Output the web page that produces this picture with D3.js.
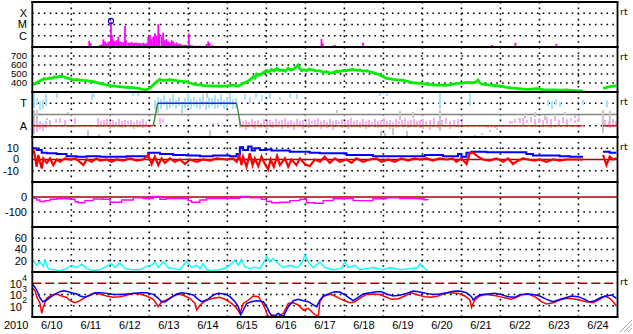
<!DOCTYPE html>
<html><head><meta charset="utf-8">
<script src="https://cdn.jsdelivr.net/npm/d3@7"></script>
<style>
html,body{margin:0;padding:0;background:#fff;}
svg{display:block;font-family:"Liberation Sans",Arial,sans-serif;}
</style></head><body>
<svg id="chart" width="633" height="334"></svg>
<script>
// ---- data (time = hours since 2010-06-10 00:00 UT) ----
const DAY_LABELS = ['6/10','6/11','6/12','6/13','6/14','6/15','6/16','6/17','6/18','6/19','6/20','6/21','6/22','6/23','6/24'];
const YEAR = '2010';
const XRAY_CLASSES = [['X',-4],['M',-5],['C',-6]];

// GOES x-ray flux, log10 W/m2
const xray = [[14.0,-6.91],[15.0,-6.92],[17.0,-6.91],[19.7,-6.91],[35.0,-6.44],[35.9,-6.67],
[41.6,-6.82],[42.7,-6.75],[43.7,-6.32],[44.7,-6.5],[45.7,-6.67],[46.7,-6.53],[47.8,-6.6],[48.4,-4.75],[49.0,-5.96],[49.8,-6.4],[50.8,-6.45],[51.9,-6.4],[52.9,-6.08],[53.9,-6.5],[55.0,-6.55],[55.9,-6.6],[57.0,-5.13],[57.6,-6.4],[59.0,-6.62],[60.0,-6.6],[61.1,-6.55],[62.1,-6.65],[63.1,-6.62],[64.2,-6.6],[65.2,-6.66],[66.2,-6.65],[67.2,-6.7],[68.2,-6.62],[69.3,-6.68],[70.3,-6.67],[71.3,-6.08],[72.4,-5.93],[73.4,-6.3],[74.4,-6.08],[75.4,-5.79],[76.5,-6.0],[77.5,-4.96],[78.1,-5.79],[79.6,-6.08],[80.5,-5.73],[81.6,-6.4],[82.6,-6.3],[83.6,-6.5],[84.7,-6.6],[85.7,-6.4],[86.7,-6.5],[87.7,-6.67],[88.8,-6.6],[89.8,-6.7],[90.8,-6.72],[91.8,-6.78],[92.8,-6.82],[93.9,-6.8],[94.9,-6.82],[96.3,-5.8],[97.0,-6.82],[98.0,-6.86],[99.0,-6.88],[101.1,-6.88],[103.1,-6.88],[105.1,-6.9],[107.2,-6.75],[108.2,-6.5],[109.1,-6.67],[110.9,-6.82],
[177.9,-6.29],[178.7,-6.67],[185.1,-6.87],[186.1,-6.82],[203.5,-6.62],[209.6,-6.92],[282.8,-6.82],[297.2,-6.62],[306.6,-6.92],[322.4,-6.71],[323.8,-6.92]];
const flareMarks = [[48.4,-4.69]];

// solar wind speed, km/s
const SPEED_TICKS = [700,600,500,400];
const speed = [[0.6,378],[2.7,403],[4.2,420],[5.8,433],[7.3,448],[8.9,444],[10.4,455],[11.9,452],[13.5,468],[15,463],[17,475],[19.1,470],[20.6,458],[22.1,452],[23.6,445],[25.2,433],[27.3,440],[29.3,433],[31.4,428],[33.4,426],[35.5,420],[37.5,415],[39.6,405],[41.6,396],[43.7,388],[45.7,378],[47.8,372],[49.8,367],[51.9,362],[53.9,359],[56,355],[58,352],[60,350],[62.1,348],[64.1,342],[66.2,337],[67.7,330],[69.3,322],[70.8,328],[72.4,344],[73.9,370],[75.4,396],[77,420],[78.5,441],[80.5,428],[82.6,433],[84.6,438],[86.7,433],[88.7,426],[90.8,422],[92.8,418],[94.9,415],[97,400],[99,389],[101,383],[103.1,378],[106,372],[109.2,367],[111.3,367],[115.4,364],[119.5,367],[121.5,372],[123.6,378],[125,370],[126.7,367],[128.2,380],[129.7,396],[131.8,412],[133.8,433],[136,470],[137,455],[138,500],[139.5,485],[141,500],[142.5,520],[144.1,537],[145.6,520],[147.2,552],[148.8,535],[150.3,563],[152,540],[154.3,544],[155.8,530],[157.4,563],[159,545],[160.5,552],[162,575],[163.5,600],[164.5,560],[165.6,537],[167.2,548],[168.7,537],[170.5,555],[172.8,544],[174.8,532],[176.9,537],[179,520],[181,526],[183,510],[185.1,515],[187.2,530],[189.2,526],[191.3,540],[193.3,537],[195.3,545],[197.3,552],[199.4,540],[201.4,544],[203.5,530],[205.6,537],[207.6,525],[209.6,515],[211.7,505],[213.8,489],[215.8,470],[217.9,452],[219.9,448],[221.9,441],[224,436],[226.1,433],[228.1,428],[230.2,422],[232.2,410],[234.3,403],[236.3,400],[238.4,396],[240.4,392],[242.5,389],[245.5,382],[248.6,378],[251.7,376],[254.8,374],[258,385],[260.9,396],[264,396],[267.1,407],[271.1,403],[272.8,410],[274.2,433],[275.2,405],[276.3,389],[279,383],[281.4,378],[284.5,372],[287.5,367],[289.6,360],[291.7,352],[294.8,346],[297.8,341],[300.8,335],[303.9,330],[307,333],[310.1,337],[313.2,328],[316.2,322],[319.3,324],[322.4,322],[325.5,320],[328.5,322],[331.6,318],[334.7,315],[338.8,311],[345,null],[351.1,341],[355.2,359],[359.3,370]];

// IMF sector: +1 toward, -1 away
const SECTOR_LABELS = [['T',1],['A',-1]];
const sectorLine = [[0,-1],[74.4,-1],[77.1,1],[125.7,1],[128.1,-1],[338.4,-1],[345,null],[351.1,-1],[360,-1]];
const towardPts = [[1.0,0.6,1.9],[2.9,0.9,1.5],[4.7,0.4,1.2],[6.6,0.5,1.3],[8.4,0.7,1.8],[15.0,1.5,1.9],[36.5,1.3,1.9],[37.9,1.5,1.8],[61.9,1.6,1.9],[65.0,1.6,1.9],
[75.4,0.5,1.3],[77.3,0.6,1.6],[79.1,0.5,1.4],[81.0,0.8,1.7],[82.8,0.4,1.2],[84.7,0.6,1.5],[86.5,0.7,1.8],[88.3,0.5,1.3],[90.2,0.8,1.6],[92.0,0.4,1.1],[93.9,0.6,1.5],[95.7,0.7,1.9],[97.6,0.5,1.4],[99.4,0.8,1.6],[101.3,0.6,1.3],[103.1,0.5,1.5],[104.9,0.7,1.8],[106.8,0.4,1.2],[108.6,0.6,1.6],[110.5,0.8,1.5],[112.3,0.5,1.7],[114.2,0.6,1.4],[116.0,0.7,1.8],[117.9,0.5,1.3],[119.7,0.6,1.6],[121.6,0.8,1.9],[123.4,0.5,1.4],[125.2,0.6,1.5],
[130.8,1.3,1.8],[133.8,1.1,1.6],[137.5,1.5,1.9],[141.2,1.2,1.7],[146.1,1.4,1.9],[152.3,1.3,1.6],[158.4,1.5,1.9],[162.7,1.4,1.8],[213.8,1.7,1.95],[218.0,1.6,1.9],
[250.6,0.5,1.9],[269.1,0.8,1.95],[317.1,0.8,1.3],[319.5,0.5,1.2],[322.0,0.9,1.4],[324.4,0.7,1.1],[338.6,0.9,1.3],[353.3,0.7,1.3]];
const awayPts = [[1.0,-1.5,-0.5],[2.9,-1.6,-0.7],[4.7,-1.3,-0.6],[6.6,-1.5,-0.8],[8.4,-1.2,-0.6],[10.9,-1.0,-0.5],[14.6,-0.8,-0.4],[17.0,-0.7,-0.3],[20.1,-0.9,-0.5],[23.2,-0.6,-0.4],[26.3,-0.8,-0.3],
[40.4,-1.1,-0.3],[42.2,-1.0,-0.6],[44.1,-0.9,-0.5],[45.9,-1.0,-0.4],[47.8,-1.3,-0.6],[49.6,-0.9,-0.5],[51.5,-1.1,-0.7],[53.3,-0.9,-0.4],[55.1,-1.2,-0.6],[57.0,-1.0,-0.5],[58.8,-0.9,-0.6],[60.7,-1.1,-0.5],[62.5,-1.3,-0.7],[64.4,-0.9,-0.5],[66.2,-1.0,-0.6],[68.1,-1.2,-0.4],[69.9,-1.0,-0.7],[78.5,-0.8,-0.3],[80.3,-0.7,-0.4],
[111.1,-1.0,-0.8],[114.2,-1.0,-0.8],
[127.7,-1.2,-0.4],[129.5,-1.0,-0.6],[131.4,-1.4,-0.5],[133.2,-1.1,-0.7],[135.1,-0.9,-0.4],[136.9,-1.3,-0.6],[138.8,-1.0,-0.5],[140.6,-1.2,-0.8],[142.5,-1.0,-0.4],[144.3,-1.4,-0.6],[146.1,-0.9,-0.5],[148.0,-1.2,-0.7],[149.8,-1.1,-0.4],[151.7,-1.0,-0.6],[153.5,-1.3,-0.5],[155.4,-0.9,-0.3],[157.2,-1.2,-0.6],[159.0,-1.0,-0.5],[160.9,-1.4,-0.7],[162.7,-0.9,-0.4],[164.6,-1.1,-0.6],[166.4,-1.3,-0.5],[168.3,-1.0,-0.7],[170.1,-1.2,-0.4],[171.9,-0.9,-0.6],[173.8,-1.1,-0.5],[175.6,-1.0,-0.3],[177.5,-1.3,-0.6],[179.3,-0.9,-0.5],[181.2,-1.2,-0.7],[183.0,-1.0,-0.4],[184.9,-1.4,-0.6],[186.7,-1.1,-0.5],[188.6,-0.9,-0.7],[190.4,-1.2,-0.4],[192.2,-1.0,-0.6],[194.1,-1.3,-0.5],[195.9,-0.9,-0.3],[197.8,-1.1,-0.6],[199.6,-1.0,-0.5],[201.5,-1.2,-0.7],[203.3,-0.9,-0.4],[205.2,-1.3,-0.6],[207.0,-1.0,-0.5],[208.9,-1.1,-0.7],[210.7,-1.0,-0.4],[212.5,-1.2,-0.6],[214.4,-0.9,-0.5],[216.2,-1.1,-0.3],[218.0,-1.0,-0.6],[219.9,-1.3,-0.5],[221.7,-1.0,-0.7],[223.6,-1.2,-0.4],[225.4,-0.9,-0.6],[227.3,-1.1,-0.5],[229.1,-1.0,-0.3],[231.0,-1.2,-0.6],[232.8,-0.9,-0.5],[234.7,-1.1,-0.4],[236.5,-1.0,-0.6],[238.4,-1.2,-0.5],
[240.2,-1.3,-0.4],[242.0,-1.0,-0.6],[244.5,-1.4,-0.5],[247.0,-0.9,-0.3],[249.4,-1.2,-0.6],[251.9,-1.0,-0.5],[254.3,-0.8,-0.3],[256.8,-1.3,-0.6],[259.3,-0.9,-0.5],[261.7,-1.1,-0.4],[264.2,-1.0,-0.6],
[280.2,-1.1,-1.0],[284.5,-1.2,-1.0],[287.5,-1.0,-0.9],[293.7,-0.9,-0.6],[296.8,-0.8,-0.4],[299.8,-0.7,-0.3],[301.7,-1.0,-0.3],[304.2,-0.8,-0.5],[306.6,-0.6,-0.2],[309.1,-1.1,-0.4],[311.5,-0.7,-0.3],[314.0,-0.9,-0.5],[316.4,-0.8,-0.2],[318.9,-1.2,-0.4],[321.4,-0.6,-0.3],[323.8,-1.0,-0.5],[326.3,-0.7,-0.2],[328.8,-0.9,-0.4],[331.2,-0.6,-0.3],[333.7,-0.8,-0.5],[336.1,-0.6,-0.2],
[352.1,-1.0,-0.5],[354.6,-1.1,-0.6],[357.0,-0.9,-0.4],[358.9,-1.0,-0.6]];
const mixedPts = [[1.0,-1.7,0.4],[2.9,-1.0,0.4],[9.0,-0.5,-0.3],[22,0.0,0.2],[34,-1.9,-1.4],[41,-1.9,-1.7],[77.5,0.2,0.6],[92,0.2,0.6],[107.4,1.5,1.9],[109.3,-1.9,-1.4],[187.6,0.1,0.4],[214.4,-1.9,-1.5],[217,-1.9,-1.6],[221.7,-1.8,-1.2],[226.1,-0.5,0.3],[230.4,-1.9,-1.5],[234.1,-0.3,0.2],[250.6,-1.5,0.4],[272.2,-1.9,-1.8],[276.5,-1.8,-1.6],[281.4,-1.6,-1.4],[285.7,-1.4,-1.2],[290.6,-1.1,-0.9],[294.9,-0.8,-0.6],[299.2,-0.5,-0.3],[302.9,-0.3,0.1],[309.1,-0.2,0.2],[315.2,-0.4,0.0],[321.4,-0.3,0.1],[327.5,-0.1,0.2],[333.7,-0.3,0.0],[350.9,-1.6,0.4],[355.2,-1.2,0.3]];

// IMF Bt / Bz, nT
const IMF_TICKS = [10,0,-10];
const bt = [[0.6,10],[2.7,8.5],[5.8,6],[8.9,5.5],[15,5],[21.1,3],[27.3,2.5],[33.4,3],[41.6,2.5],[49.8,2.5],[58,3],[66.2,3],[70.3,2.5],[71.3,6],[76.5,6],[78.5,5],[82.6,5],[86.7,4],[94.9,3.5],[103.1,3],[111.3,3.5],[115.4,3.5],[121.5,3],[125.7,5],[127.7,11],[129.7,8.5],[132.8,11.5],[134.9,8],[136.9,10],[140,8.5],[144.1,9],[147.2,8],[152.3,8],[158.4,7],[164.6,7],[170.7,6],[176.9,5.5],[185.1,5.5],[193.3,4],[201.4,4],[209.6,3],[217.9,3],[226.1,3],[234.3,3],[238.4,3],[241.4,4],[246.5,4],[252.7,3],[258.8,3],[261.9,5],[264,2.5],[267.1,6],[270.1,7],[273.2,7],[279.4,6.5],[287.5,6.5],[295.7,6.5],[299.8,6.5],[303.9,5],[308,3.5],[316.2,3.5],[324.4,3],[330.6,2.5],[338.8,2.5],[345,null],[351.1,7],[355.2,6],[359.3,6]];
const bz = [[0.6,9],[1.7,2.5],[2.7,-6.5],[3.7,4],[4.7,-2],[5.8,-8],[6.8,1],[8.9,-3],[10.9,1],[12.9,-5],[15,0],[17,-2],[20.1,1],[23.2,0],[26.3,1],[28.3,-1],[31.4,-5],[33.4,0],[36.5,-2],[39.6,1],[41.6,-1],[45.7,0],[48.8,-2],[51.9,0],[55.9,-1],[60.1,1],[64.2,-1],[68.2,0],[71.3,4],[73.4,-4],[75.4,2.5],[77.5,-5],[79.6,1],[81.6,-3],[84.7,1],[87.7,-2],[90.8,0],[93.9,-4],[97,0],[101.1,-2],[105.1,0],[109.3,-1],[113.4,1],
[119.5,0],[123.6,1],[125.7,-2],[127.3,4],[128.7,-5],[129.7,2.5],[131.8,-6.5],[133.8,5.5],[135.5,-5],[136.9,1],[139,-6],[141,2.5],[143.1,-4],[145.1,-9],[146.6,0],[148.6,-6.5],[150.6,3],[152.3,-5],[155.4,1],[157.4,-6.5],[159.5,0],[162.5,-5],[164.6,1],[167.7,-4],[170.7,-6],[173.8,0],[176.9,-2],[179.9,2.5],[183,-3],[186.1,1],[189.2,-2],[193.3,0],[196.4,-3],[199.4,1],[203.5,-2],[207.6,0],[211.7,1],[214.8,-2],[218.9,0],[223,-2],[227.1,1],[231.2,-1],[235.3,1],[238.4,0],
[242.5,1],[246.5,-1],[250.6,1],[254.8,0],[258.8,1],[260.9,-2],[264,1],[267.1,-4],[269.1,5.5],[271.1,6],[274.2,2.5],[277.3,0],[281.4,-1],[285.5,1],[289.6,-2],[292.7,1],[295.7,-4],[298.8,-1],[301.9,1],[304.9,0],[309.1,-1],[312.1,0],[316.2,-2],[320.3,0],[324.4,-1],[328.5,0],[332.6,0],[338.8,0],[345,null],[351.1,4],[353.2,-5],[355.2,2.5],[357.3,0],[359.3,1]];

// Dst, nT
const DST_TICKS = [0,-100];
const dst = [[0.6,-9],[2.7,-20],[4.7,-30],[7.8,-24],[10.9,-15],[15,-12],[19,-12],[23.2,-15],[26.3,-32],[28.3,-38],[32.4,-24],[37.5,-13],[43.7,-15],[47.8,-35],[51.9,-35],[55,-20],[62.1,-6],[68.2,-10],[74.4,4],[78.5,-15],[82.6,-10],[90.8,-10],[95.9,-24],[98,-35],[103.1,-20],[107.2,-10],[113.4,-10],[121,-8],[127.7,4],[133.9,-5],[141,-15],[144.1,-30],[147.2,-38],[152.3,-35],[158.4,-24],[164.6,-15],[168.7,-38],[173.8,-42],[178.9,-24],[185.1,-12],[191.2,-10],[197.4,-24],[203.5,-24],[209.6,-12],[217.9,-6],[226.1,-10],[234.3,-10],[238.4,-12],[241,-18],[243.4,-20]];

// AE-type activity index
const ACT_TICKS = [60,40,20];
const activity = [[0.4,21],[2.7,12],[4.7,18],[6.8,10],[7.8,21],[9.8,6],[12.9,4],[17,2.5],[21.1,6],[24.2,12],[27.3,8],[30.4,14],[33.4,6],[37.5,2.5],[41.6,4],[45.7,10],[48.8,15],[50.8,8],[53.9,16],[57,6],[61.1,4],[66.2,4],[70.3,10],[73.4,12],[75.4,18],[77.5,8],[80.5,18],[83.6,8],[86.7,6],[90.8,4],[94.9,19],[98,8],[101.1,12],[103.2,6],[105.1,15],[107.2,4],[111.3,2.5],[115.4,4],[119.5,8],[122.6,15],[124.6,21],[126.7,12],[128.7,22.5],[130.8,9],[133.8,6],[136.9,9],[140,6],[143.1,21],[144.1,28],[146.1,18],[148.2,24],[151.2,15],[154.3,8],[158.4,12],[162.5,8],[164.6,12],[166.6,21],[167.6,30],[169.7,18],[172.8,8],[176.9,18],[179.9,8],[185.1,4],[190.2,6],[192.2,18],[194.3,8],[198.4,12],[201.5,4],[205.6,6],[209.6,8],[215.8,4],[219.9,8],[226.1,4],[232.3,6],[237.3,8],[238.4,15],[241,7],[243.4,1]];

// electron flux, log10
const FLUX_TICKS = [4,3,2];
const fluxHigh = [[0.2,3.93],[2.7,3.40],[4.3,2.81],[6.4,2.36],[8.9,2.51],[10.9,2.75],[14,3.04],[17,3.25],[19.1,3.34],[21.2,3.28],[24.2,3.16],[27.3,3.04],[29.4,2.87],[32.4,2.75],[35.5,2.93],[38.6,3.16],[41.7,3.16],[45.8,3.10],[49.9,2.99],[54,3.01],[58,3.04],[62.2,3.10],[66.3,3.16],[70.4,3.16],[74.5,3.01],[77.5,2.66],[79.6,2.36],[81.6,2.33],[84.7,2.66],[88.8,3.04],[91.9,3.16],[95,3.10],[99,2.96],[102.1,2.57],[104.2,2.36],[107.3,2.51],[111.4,2.96],[114.4,3.10],[118.5,3.04],[121.6,2.81],[124.7,2.36],[126.7,1.92],[128.2,1.18],[129.8,1.62],[131.9,2.21],[134.9,2.36],[138,2.45],[142.1,2.36],[144.2,1.92],[146.2,1.33],[148.3,1.03],[151.3,1.33],[154.4,1.03],[157.5,1.92],[160.6,2.45],[163.6,2.57],[166.7,2.45],[169.8,2.36],[172.9,2.07],[174.9,1.92],[177,2.51],[179,2.87],[183.05,3.10],[186.1,3.25],[189.2,3.22],[192.3,2.96],[195.35,2.66],[197.4,2.45],[200.5,2.75],[203.55,3.04],[207.65,3.16],[211.75,3.25],[214.8,3.25],[217.9,3.04],[222,2.87],[226.1,2.93],[230.2,3.10],[234.3,3.31],[238.4,3.22],[242.5,3.10],[246.6,2.99],[250.7,3.04],[254.8,3.16],[258.9,3.28],[263,3.31],[267.1,3.16],[270.2,2.81],[271.2,2.51],[273.25,2.81],[276.3,2.99],[280.4,3.04],[284.5,3.10],[288.6,2.99],[292.7,2.81],[296.8,2.75],[299.9,2.99],[304,3.04],[308.1,2.99],[312.2,2.87],[316.3,2.57],[320.4,2.36],[323.5,2.51],[327.6,2.69],[331.7,2.87],[335.8,2.81],[339.9,2.57],[342.95,2.33],[346,2.45],[350.1,2.75],[353.2,2.87],[356.3,2.96],[359.35,2.66]];
const fluxLow = [[0.2,3.55],[1.7,3.34],[2.7,2.81],[4.75,2.21],[5.8,1.33],[6.8,1.92],[8.85,2.66],[11.9,2.96],[15,3.04],[18.1,2.87],[21.15,2.75],[23.2,2.45],[26.3,2.27],[29.35,2.45],[33.45,2.81],[37.55,3.10],[41.65,3.04],[45.75,2.87],[49.85,2.75],[53.95,2.81],[58.05,2.93],[62.15,3.10],[66.25,3.04],[70.35,2.87],[74.45,2.57],[77.5,1.92],[79.6,2.36],[82.65,2.51],[86.75,2.87],[89.8,3.04],[92.9,2.93],[97,2.66],[100.1,2.21],[101.1,1.62],[103.2,2.07],[107.25,2.51],[111.35,2.66],[115.45,2.75],[119.55,2.51],[122.6,2.21],[125.7,1.77],[127.75,1.33],[129.8,2.21],[132.9,2.51],[135.95,2.87],[139,2.81],[141.1,2.36],[143.1,1.77],[145.2,1.03],[148.25,1.18],[151.3,1.03],[154.4,1.33],[157.5,2.21],[160.55,2.27],[163.6,2.07],[166.7,1.62],[169.75,1.77],[172.85,1.33],[175.9,1.03],[176.95,2.36],[179,2.81],[183.05,3.04],[186.1,2.87],[189.2,2.63],[192.3,2.45],[195.35,2.27],[198.4,2.36],[201.5,2.66],[205.6,3.01],[209.7,3.04],[213.8,2.99],[217.9,2.75],[221,2.57],[225.1,2.63],[229.2,2.87],[233.3,3.16],[237.4,2.96],[241.5,2.81],[245.6,2.75],[249.7,2.87],[253.8,3.10],[257.9,3.16],[262,3.10],[266.1,2.87],[269.2,2.51],[270.2,1.86],[272.2,2.51],[275.3,2.87],[279.4,3.01],[283.5,2.93],[287.6,2.81],[291.7,2.66],[294.8,2.57],[297.85,2.75],[300.9,2.96],[305,3.04],[309.1,2.81],[313.2,2.36],[316.3,2.16],[320.4,2.27],[324.5,2.51],[328.6,2.66],[332.7,2.63],[336.8,2.51],[340.9,2.36],[345,2.27],[349.1,2.57],[352.2,2.87],[355.2,2.66],[357.3,2.36],[359.35,1.98]];

// ---- layout ----
const L = 32.3, R = 617.5;
const TOPS = [2, 47, 92, 137, 182, 227, 272];
const PH = 45, BOTTOM = 317;
const svg = d3.select('#chart');

const x = d3.scaleLinear().domain([0, 360]).range([L, R]);
const yr = i => [TOPS[i] + PH, TOPS[i]];

const yXray = d3.scaleLog().domain([1e-7, 1e-3]).range(yr(0));
const ySpeed = d3.scaleLinear().domain([300, 800]).range(yr(1));
const ySector = d3.scaleLinear().domain([-2, 2]).range(yr(2));
const yImf = d3.scaleLinear().domain([-20, 20]).range(yr(3));
const yDst = d3.scaleLinear().domain([-200, 100]).range(yr(4));
const yAct = d3.scaleLinear().domain([0, 80]).range(yr(5));
const yFlux = d3.scaleLog().domain([1e1, 1e5]).range(yr(6));

const defs = svg.append('defs');
TOPS.forEach((t, i) => {
  defs.append('clipPath').attr('id', 'clip' + i)
    .append('rect').attr('x', L).attr('y', t).attr('width', R - L).attr('height', PH);
});

// ---- grid ----
const gGrid = svg.append('g');
function hDots(y) {
  gGrid.append('line').attr('x1', L).attr('x2', R).attr('y1', y).attr('y2', y)
    .attr('stroke', '#000').attr('stroke-width', 1.6).attr('stroke-dasharray', '1.6,4.2');
}
d3.range(1, 15).forEach(d => {
  gGrid.append('line').attr('x1', x(d * 24)).attr('x2', x(d * 24)).attr('y1', TOPS[0]).attr('y2', BOTTOM)
    .attr('stroke', '#000').attr('stroke-width', 1.6).attr('stroke-dasharray', '1.6,4');
});
XRAY_CLASSES.forEach(c => hDots(yXray(Math.pow(10, c[1]))));
SPEED_TICKS.forEach(v => hDots(ySpeed(v)));
SECTOR_LABELS.forEach(s => hDots(ySector(s[1])));
IMF_TICKS.filter(v => v !== 0).forEach(v => hDots(yImf(v)));
DST_TICKS.filter(v => v !== 0).forEach(v => hDots(yDst(v)));
ACT_TICKS.forEach(v => hDots(yAct(v)));
FLUX_TICKS.filter(v => v !== 4).forEach(v => hDots(yFlux(Math.pow(10, v))));

// reference lines
const gRef = svg.append('g');
gRef.append('line').attr('x1', L).attr('x2', R).attr('y1', ySector(0)).attr('y2', ySector(0))
  .attr('stroke', '#858585').attr('stroke-width', 1.5);
[yImf(0), yDst(0)].forEach(y => {
  gRef.append('line').attr('x1', L).attr('x2', R).attr('y1', y).attr('y2', y)
    .attr('stroke', '#a80000').attr('stroke-width', 1.5);
});
gRef.append('line').attr('x1', L).attr('x2', R).attr('y1', yFlux(1e4)).attr('y2', yFlux(1e4))
  .attr('stroke', '#a80000').attr('stroke-width', 1.5).attr('stroke-dasharray', '9,4');

// ---- data ----
const lineOf = (ys, acc) => d3.line().defined(d => d[1] != null)
  .x(d => x(d[0])).y(d => ys(acc ? acc(d[1]) : d[1]));
const pow10 = v => Math.pow(10, v);

// panel 1: x-ray
const g1 = svg.append('g').attr('clip-path', 'url(#clip0)');
g1.selectAll('rect').data(xray).join('rect')
  .attr('x', d => x(d[0]) - 0.9).attr('width', 1.8)
  .attr('y', d => yXray(pow10(d[1]))).attr('height', d => yXray(1e-7) - yXray(pow10(d[1])))
  .attr('fill', '#ff00ff');
g1.selectAll('circle').data(flareMarks).join('circle')
  .attr('cx', d => x(d[0])).attr('cy', d => yXray(pow10(d[1]))).attr('r', 2.6)
  .attr('fill', 'none').attr('stroke', '#0000ff').attr('stroke-width', 1.1);

// panel 2: speed
svg.append('path').attr('clip-path', 'url(#clip1)').datum(speed)
  .attr('d', lineOf(ySpeed))
  .attr('fill', 'none').attr('stroke', '#00f000').attr('stroke-width', 2.8);

// panel 3: sector (scatter drawn as pixel-snapped vertical runs)
const g3 = svg.append('g').attr('clip-path', 'url(#clip2)');
function scatterBars(pts, color) {
  g3.append('g').selectAll('rect').data(pts).join('rect')
    .attr('x', d => Math.round(x(d[0])) - 1).attr('width', 2)
    .attr('y', d => Math.round(ySector(d[2]))).attr('height', d => Math.max(2, Math.round(ySector(d[1]) - ySector(d[2]))))
    .attr('fill', color).attr('shape-rendering', 'crispEdges');
}
scatterBars(mixedPts, '#c8c8c8');
scatterBars(towardPts, '#a6e2fa');
scatterBars(awayPts, '#f6b0f2');
d3.pairs(sectorLine).forEach(([a, b]) => {
  if (a[1] == null || b[1] == null) return;
  const col = a[1] !== b[1] ? '#3a8a3a' : (a[1] > 0 ? '#2222ff' : '#dd1111');
  g3.append('line').attr('x1', x(a[0])).attr('x2', x(b[0]))
    .attr('y1', ySector(a[1])).attr('y2', ySector(b[1]))
    .attr('stroke', col).attr('stroke-width', 1.4);
});

// panel 4: IMF
svg.append('path').attr('clip-path', 'url(#clip3)').datum(bt)
  .attr('d', lineOf(yImf).curve(d3.curveStepAfter))
  .attr('fill', 'none').attr('stroke', '#0000ff').attr('stroke-width', 2);
svg.append('path').attr('clip-path', 'url(#clip3)').datum(bz)
  .attr('d', lineOf(yImf))
  .attr('fill', 'none').attr('stroke', '#ff0000').attr('stroke-width', 2.2);

// panel 5: Dst
svg.append('path').attr('clip-path', 'url(#clip4)').datum(dst)
  .attr('d', lineOf(yDst).curve(d3.curveStepAfter))
  .attr('fill', 'none').attr('stroke', '#ff00ff').attr('stroke-width', 1.4);

// panel 6: activity
svg.append('path').attr('clip-path', 'url(#clip5)').datum(activity)
  .attr('d', lineOf(yAct))
  .attr('fill', 'none').attr('stroke', '#00ffff').attr('stroke-width', 1.4);

// panel 7: flux
svg.append('path').attr('clip-path', 'url(#clip6)').datum(fluxLow)
  .attr('d', lineOf(yFlux, pow10))
  .attr('fill', 'none').attr('stroke', '#ff0000').attr('stroke-width', 1.5);
svg.append('path').attr('clip-path', 'url(#clip6)').datum(fluxHigh)
  .attr('d', lineOf(yFlux, pow10))
  .attr('fill', 'none').attr('stroke', '#0000ff').attr('stroke-width', 1.5);

// ---- frame ----
const gF = svg.append('g');
TOPS.concat([BOTTOM]).forEach(y => {
  gF.append('line').attr('x1', L - 1).attr('x2', R + 1).attr('y1', y).attr('y2', y)
    .attr('stroke', '#000').attr('stroke-width', 2);
});
[L, R].forEach(xx => {
  gF.append('line').attr('x1', xx).attr('x2', xx).attr('y1', TOPS[0]).attr('y2', BOTTOM)
    .attr('stroke', '#000').attr('stroke-width', 1.8);
});

// ---- labels ----
const gT = svg.append('g').attr('font-size', 11).attr('fill', '#000');
function leftLabel(txt, y, xr, fs) {
  gT.append('text').attr('x', xr || 27).attr('y', y).attr('dy', '0.36em')
    .attr('font-size', fs || 11).attr('text-anchor', 'end').text(txt);
}
XRAY_CLASSES.forEach(c => leftLabel(c[0], yXray(pow10(c[1]))));
SPEED_TICKS.forEach(v => leftLabel(v, ySpeed(v), 27, 9.6));
SECTOR_LABELS.forEach(s => leftLabel(s[0], ySector(s[1])));
IMF_TICKS.forEach(v => leftLabel(v < 0 ? '-' + (-v) : v, yImf(v), 19));
DST_TICKS.forEach(v => leftLabel(v < 0 ? '-' + (-v) : v, yDst(v)));
ACT_TICKS.forEach(v => leftLabel(v, yAct(v)));
FLUX_TICKS.forEach(v => {
  gT.append('text').attr('x', 22).attr('y', yFlux(pow10(v))).attr('dy', '0.45em')
    .attr('text-anchor', 'end').text('10');
  gT.append('text').attr('x', 22.3).attr('y', yFlux(pow10(v)) - 2.5).attr('font-size', 8.5).text(v);
});

DAY_LABELS.forEach((d, i) => {
  gT.append('text').attr('x', x(i * 24 + 12)).attr('y', 329).attr('text-anchor', 'middle').text(d);
});
gT.append('text').attr('x', 4).attr('y', 329).text(YEAR);

// "rt" markers at right
[0, 1, 2, 3, 6].forEach(i => {
  svg.append('text').attr('x', 620).attr('y', TOPS[i] + 13).attr('font-size', 9.5)
    .attr('font-family', '"DejaVu Sans",sans-serif').text('rt');
});

// window grip
[[632, 320, 620, 332], [632, 324, 624, 332], [632, 328, 628, 332]].forEach(s => {
  svg.append('line').attr('x1', s[0]).attr('y1', s[1]).attr('x2', s[2]).attr('y2', s[3])
    .attr('stroke', '#a0a0a0').attr('stroke-width', 1);
});
</script>
</body></html>
